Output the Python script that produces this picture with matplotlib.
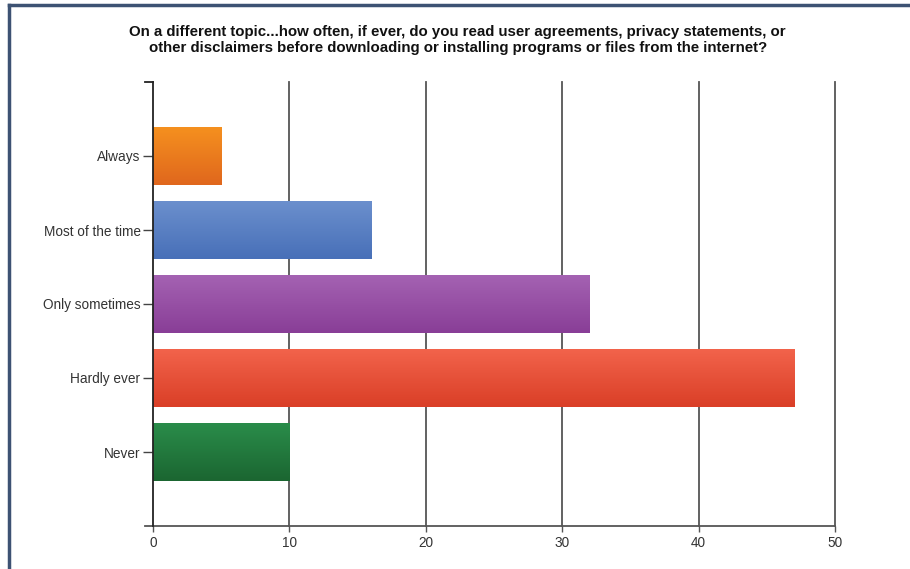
import numpy as np
import matplotlib.pyplot as plt
from matplotlib.colors import LinearSegmentedColormap
from matplotlib.lines import Line2D

# survey answers, top to bottom
answers = ['Always', 'Most of the time', 'Only sometimes', 'Hardly ever', 'Never']
counts = [5, 16, 32, 47, 10]
# gradient colours for each bar (top edge, bottom edge)
bar_top = ['#f5901f', '#6b8fcd', '#a462b2', '#f2634b', '#2a8c4a']
bar_bot = ['#e0671d', '#4870b8', '#893e97', '#da3f27', '#1b6631']
xticks = [0, 10, 20, 30, 40, 50]

title = ('On a different topic...how often, if ever, do you read user agreements, privacy statements, or\n'
         'other disclaimers before downloading or installing programs or files from the internet?')

plt.rcParams['font.family'] = ['Liberation Sans', 'DejaVu Sans']

fig = plt.figure(figsize=(9.10, 5.69), dpi=100)
fig.patch.set_facecolor('white')

# frame round the chart
fig.add_artist(Line2D([9 / 910, 9 / 910], [0, 1 - 5 / 569], color='#3d5273', lw=2.5))
fig.add_artist(Line2D([9 / 910, 1], [1 - 5 / 569, 1 - 5 / 569], color='#3d5273', lw=2.5))

ax = fig.add_axes([153 / 910, 1 - 526 / 569, (835 - 153) / 910, (526 - 82) / 569])

pos = np.arange(1, len(answers) + 1)
h = 0.78
for i, (p, v) in enumerate(zip(pos, counts)):
    cmap = LinearSegmentedColormap.from_list('g%d' % i, [bar_top[i], bar_bot[i]])
    grad = np.linspace(0, 1, 64).reshape(-1, 1)
    ax.imshow(grad, cmap=cmap, aspect='auto', extent=(0, v, p + h / 2, p - h / 2),
              zorder=3, interpolation='bicubic')

ax.set_xlim(0, 50)
ax.set_ylim(6, 0)

for x in xticks[1:]:
    ax.axvline(x, color='#555555', lw=1.3, zorder=1, clip_on=False)

ax.set_yticks(pos)
ax.set_yticklabels(answers)
ax.set_xticks(xticks)
ax.tick_params(axis='y', length=7, width=1, color='#444444', labelsize=9.8, labelcolor='#333333', pad=2)
ax.tick_params(axis='x', length=4, width=1, color='#555555', labelsize=9.8, labelcolor='#333333', pad=3)

for s in ['top', 'right']:
    ax.spines[s].set_visible(False)
ax.spines['left'].set_color('#222222')
ax.spines['left'].set_linewidth(1.3)
ax.spines['bottom'].set_color('#555555')
ax.spines['bottom'].set_linewidth(1.3)
ax.spines['left'].set_zorder(4)

# little caps at the top of the value axis and left end of the category axis
ax.plot([-0.6, 0], [0, 0], color='#222222', lw=1.3, clip_on=False)
ax.plot([-0.6, 0], [6, 6], color='#555555', lw=1.3, clip_on=False)

fig.text(0.503, 1 - 40 / 569, title, ha='center', va='center', fontsize=10.8,
         fontweight='bold', color='#111111', linespacing=1.1)

fig.savefig('out.png', dpi=100)
